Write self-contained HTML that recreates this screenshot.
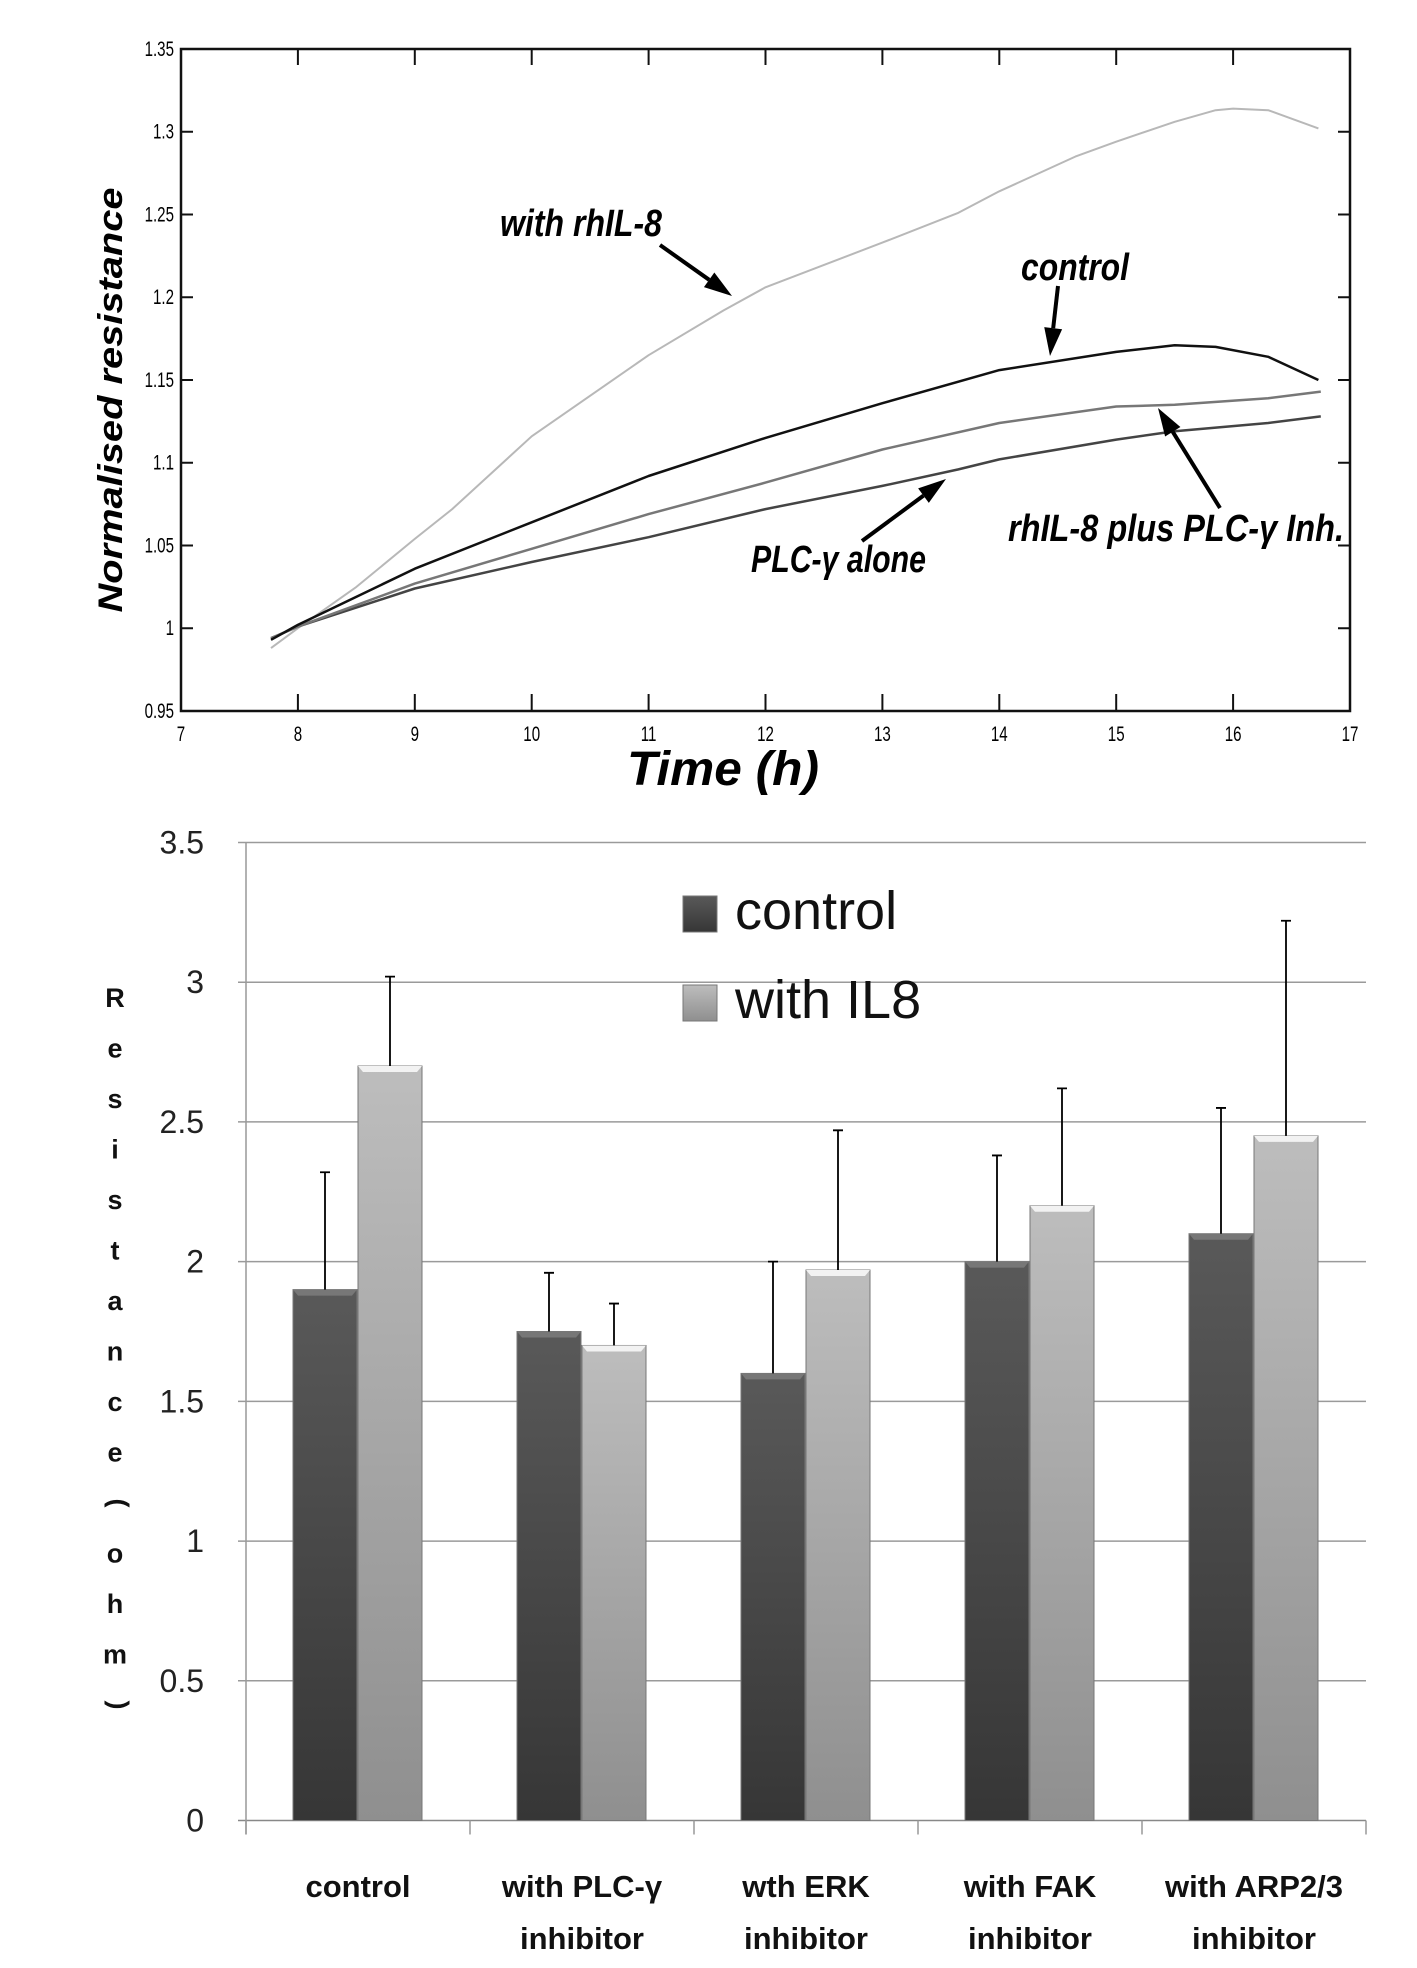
<!DOCTYPE html>
<html><head><meta charset="utf-8"><style>
html,body{margin:0;padding:0;background:#fff;}
svg{display:block;}
</style></head><body>
<svg id="fig" width="1417" height="1968" viewBox="0 0 1417 1968" xmlns="http://www.w3.org/2000/svg">
<defs>
<linearGradient id="gDark" x1="0" y1="0" x2="0" y2="1"><stop offset="0" stop-color="#595959"/><stop offset="1" stop-color="#363636"/></linearGradient>
<linearGradient id="gLight" x1="0" y1="0" x2="0" y2="1"><stop offset="0" stop-color="#bdbdbd"/><stop offset="1" stop-color="#8f8f8f"/></linearGradient>
</defs>
<g id="topChart"></g>
<g id="botChart"></g>
</svg>
<script>
// ---- Top chart data ----
const timesLight = [7.77,8.0,8.5,9.0,9.32,10.0,11.0,11.64,12.0,13.0,13.65,14.0,14.65,15.0,15.5,15.85,16.0,16.3,16.73];
const valuesLight = [0.988,1.0,1.025,1.054,1.072,1.116,1.165,1.192,1.206,1.233,1.251,1.264,1.285,1.294,1.306,1.313,1.314,1.313,1.302];
const timesCtrl = [7.77,8.0,9.0,10.0,11.0,12.0,13.0,14.0,15.0,15.5,15.85,16.3,16.73];
const valuesCtrl = [0.993,1.002,1.036,1.064,1.092,1.115,1.136,1.156,1.167,1.171,1.170,1.164,1.150];
const timesMix = [7.77,8.0,9.0,10.0,11.0,12.0,13.0,14.0,15.0,15.5,16.3,16.75];
const valuesMix = [0.994,1.001,1.027,1.048,1.069,1.088,1.108,1.124,1.134,1.135,1.139,1.143];
const timesPlc = [7.77,8.0,9.0,10.0,11.0,12.0,13.0,13.65,14.0,15.0,15.5,16.3,16.75];
const valuesPlc = [0.994,1.001,1.024,1.040,1.055,1.072,1.086,1.096,1.102,1.114,1.119,1.124,1.128];
const xTicksTop = [7,8,9,10,11,12,13,14,15,16,17];
const yTicksTop = [0.95,1,1.05,1.1,1.15,1.2,1.25,1.3,1.35];
const yTickLabelsTop = ["0.95","1","1.05","1.1","1.15","1.2","1.25","1.3","1.35"];

// ---- Bottom chart data ----
const categories = [["control"],["with PLC-γ","inhibitor"],["wth ERK","inhibitor"],["with FAK","inhibitor"],["with ARP2/3","inhibitor"]];
const controlVals = [1.9,1.75,1.6,2.0,2.1];
const il8Vals = [2.7,1.7,1.97,2.2,2.45];
const controlErr = [2.32,1.96,2.0,2.38,2.55];
const il8Err = [3.02,1.85,2.47,2.62,3.22];
const yTicksBot = [0,0.5,1,1.5,2,2.5,3,3.5];

const NS="http://www.w3.org/2000/svg";
function mk(tag, attrs, parent, text){const e=document.createElementNS(NS,tag);for(const k in attrs)e.setAttribute(k,attrs[k]);if(text!==undefined)e.textContent=text;parent.appendChild(e);return e;}

// ---- Top chart ----
const topG=document.getElementById('topChart');
const L=181,R=1350,T=49,B=711;
const xT=t=>L+(t-7)/10*(R-L);
const yT=v=>B-(v-0.95)/0.4*(B-T);
xTicksTop.forEach(t=>{
  const x=xT(t);
  if(t>7&&t<17){
    const a=mk('line',{x1:x,y1:B,x2:x,y2:B-17,stroke:'#111','stroke-width':2},topG);
    
    
    const b=mk('line',{x1:x,y1:T,x2:x,y2:T+16,stroke:'#111','stroke-width':2},topG);
    
    
  }
  const lb=mk('text',{x:x,y:741,'text-anchor':'middle','font-family':'Liberation Sans, sans-serif','font-size':21,transform:`translate(${x},0) scale(0.72,1) translate(${-x},0)`},topG,String(t));
  
  
});
yTicksTop.forEach((v,i)=>{
  const y=yT(v);
  if(i>0&&i<yTicksTop.length-1){
    const a=mk('line',{x1:L,y1:y,x2:L+12,y2:y,stroke:'#111','stroke-width':2},topG);
    
    
    const b=mk('line',{x1:R,y1:y,x2:R-12,y2:y,stroke:'#111','stroke-width':2},topG);
    
    
  }
  const lb=mk('text',{x:174,y:y+7,'text-anchor':'end','font-family':'Liberation Sans, sans-serif','font-size':21,transform:`translate(174,0) scale(0.72,1) translate(-174,0)`},topG,yTickLabelsTop[i]);
  
  
});
const box=mk('rect',{x:L,y:T,width:R-L,height:B-T,fill:'none',stroke:'#111','stroke-width':2.5},topG);



function line(ts,vs,color,w,name){
  const d=ts.map((t,i)=>(i?'L':'M')+xT(t).toFixed(1)+','+yT(vs[i]).toFixed(1)).join(' ');
  const p=mk('path',{d:d,fill:'none',stroke:color,'stroke-width':w,'stroke-linejoin':'round'},topG);
  
  
}
line(timesLight,valuesLight,'#b8b8b8',2,'line-with-rhil8');
line(timesPlc,valuesPlc,'#444',2.5,'line-plc-alone');
line(timesMix,valuesMix,'#777',2.5,'line-rhil8-plus-plc-inh');
line(timesCtrl,valuesCtrl,'#111',2.5,'line-control');

function arrow(x1,y1,x2,y2,name){
  const dx=x2-x1,dy=y2-y1,len=Math.hypot(dx,dy),ux=dx/len,uy=dy/len,hl=28,hw=9;
  const bx=x2-ux*hl,by=y2-uy*hl;
  const g=mk('g',{},topG);
  
  
  mk('line',{x1:x1,y1:y1,x2:bx,y2:by,stroke:'#000','stroke-width':4},g);
  mk('polygon',{points:`${x2},${y2} ${bx-uy*hw},${by+ux*hw} ${bx+uy*hw},${by-ux*hw}`,fill:'#000'},g);
}
function lab(x,y,w,txt,name){
  const t=mk('text',{x:x,y:y,'font-family':'Liberation Sans, sans-serif','font-size':38,'font-weight':'bold','font-style':'italic',textLength:w,lengthAdjust:'spacingAndGlyphs'},topG,txt);
  
  
}
lab(500,236,162,'with rhIL-8','label-with-rhil8');
arrow(660,245,732,296,'arrow-with-rhil8');
lab(1021,280,108,'control','label-control');
arrow(1058,286,1050,356,'arrow-control');
lab(1008,541,336,'rhIL-8 plus PLC-γ Inh.','label-rhil8-plus-plc');
arrow(1220,508,1158,408,'arrow-rhil8-plus-plc');
lab(751,572,175,'PLC-γ alone','label-plc-alone');
arrow(862,541,946,479,'arrow-plc-alone');

const yl=mk('text',{x:0,y:0,'text-anchor':'middle','font-family':'Liberation Sans, sans-serif','font-size':34,'font-weight':'bold','font-style':'italic',transform:'translate(122,400) rotate(-90)',textLength:425,lengthAdjust:'spacingAndGlyphs'},topG,'Normalised resistance');


const xl=mk('text',{x:723,y:785,'text-anchor':'middle','font-family':'Liberation Sans, sans-serif','font-size':48,'font-weight':'bold','font-style':'italic',textLength:192,lengthAdjust:'spacingAndGlyphs'},topG,'Time (h)');



// ---- Bottom chart ----
const botG=document.getElementById('botChart');
const BL=246,BR=1366,BT=842.5,BB=1820.5;
const yB=v=>BB-v/3.5*(BB-BT);
const cw=(BR-BL)/categories.length;
yTicksBot.forEach(v=>{
  const y=yB(v);
  const g=mk('line',{x1:BL-8,y1:y,x2:BR,y2:y,stroke:v===0?'#888':'#9a9a9a','stroke-width':1.5},botG);
  
  
  const t=mk('text',{x:204,y:y+11,'text-anchor':'end','font-family':'Liberation Sans, sans-serif','font-size':32,fill:'#222'},botG,String(v));
  
  
});
const ax=mk('line',{x1:BL,y1:BT,x2:BL,y2:BB+14,stroke:'#999','stroke-width':1.5},botG);


for(let i=0;i<=categories.length;i++){
  const x=BL+i*cw;
  const tk=mk('line',{x1:x,y1:BB,x2:x,y2:BB+14,stroke:'#999','stroke-width':1.5},botG);
  
  
}
const bw=64;
function bar(x,v,e,fill,cap,name){
  const y=yB(v);
  const r=mk('rect',{x:x,y:y,width:bw,height:BB-y,fill:fill,stroke:'#777','stroke-width':1},botG);
  
  
  const c=mk('polygon',{points:`${x},${y} ${x+bw},${y} ${x+bw-5},${y+6} ${x+5},${y+6}`,fill:cap},botG);
  
  
  const cx=x+bw/2,ye=yB(e);
  const el=mk('path',{d:`M${cx},${y} V${ye} M${cx-5},${ye} H${cx+5}`,stroke:'#000','stroke-width':1.8,fill:'none'},botG);
  
  
}
categories.forEach((cat,i)=>{
  const c=BL+i*cw+cw/2;
  bar(c-bw-1,controlVals[i],controlErr[i],'url(#gDark)','#777','bar-control-'+i);
  bar(c,il8Vals[i],il8Err[i],'url(#gLight)','#f2f2f2','bar-il8-'+i);
  cat.forEach((s,j)=>{
    const t=mk('text',{x:c,y:1897+j*52,'text-anchor':'middle','font-family':'Liberation Sans, sans-serif','font-size':31,'font-weight':'bold',fill:'#111'},botG,s);
    
    
  });
});
// legend
const lg=mk('g',{},botG);


const l1=mk('rect',{x:683,y:896,width:34,height:36,fill:'url(#gDark)',stroke:'#777'},lg);


const t1=mk('text',{x:735,y:929,'font-family':'Liberation Sans, sans-serif','font-size':54,fill:'#111'},lg,'control');


const l2=mk('rect',{x:683,y:985,width:34,height:36,fill:'url(#gLight)',stroke:'#777'},lg);


const t2=mk('text',{x:735,y:1018,'font-family':'Liberation Sans, sans-serif','font-size':54,fill:'#111'},lg,'with IL8');


// vertical y-axis title letters
const letters=['R','e','s','i','s','t','a','n','c','e',')','o','h','m','('];
letters.forEach((ch,i)=>{
  const y=1007+i*50.5;
  const rot=(ch==='('||ch===')');
  const t=mk('text',{x:115,y:y,'text-anchor':'middle','font-family':'Liberation Sans, sans-serif','font-size':27,'font-weight':'bold',fill:'#111',transform:rot?`rotate(-90,115,${y-9})`:''},botG,ch);
  
  
});
</script>
</body></html>
